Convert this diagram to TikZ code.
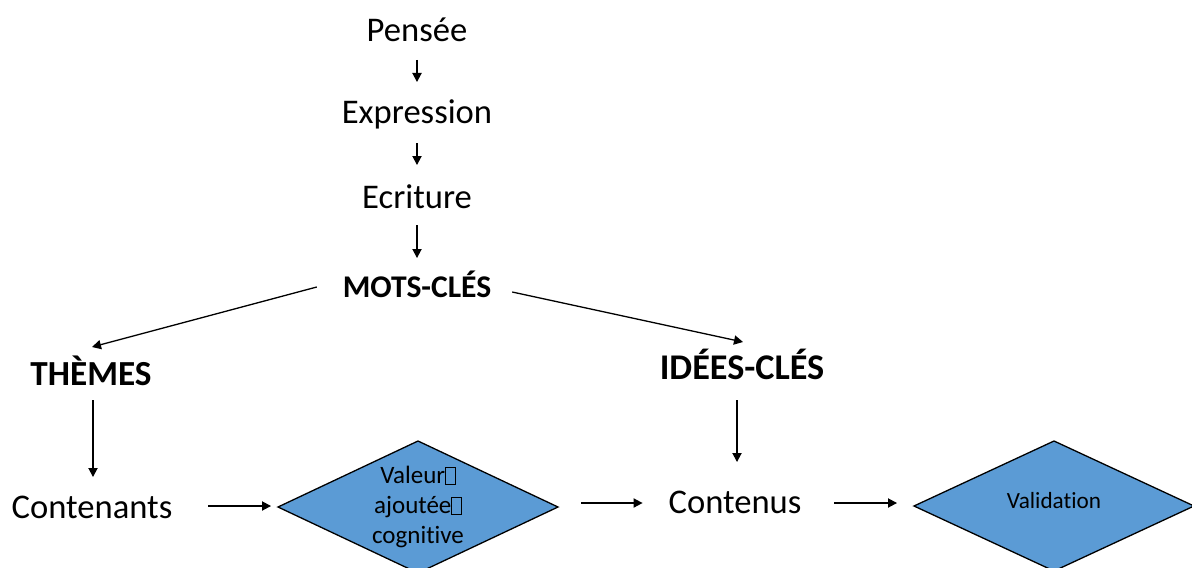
\documentclass[tikz,border=0pt]{standalone}
\usepackage{fontspec}
\setmainfont[Ligatures=NoCommon]{Carlito}
\usetikzlibrary{shapes.geometric,arrows.meta}
\definecolor{dblue}{HTML}{5B9BD5}
\newcommand\glyphbox{{\setlength\fboxsep{0pt}\setlength\fboxrule{0.35pt}\framebox[0.42em][c]{\rule{0pt}{0.64em}}}}
\tikzset{
  lbl/.style={inner sep=0pt, outer sep=0pt, anchor=base, font=\fontsize{17.3pt}{20pt}\selectfont},
  blbl/.style={inner sep=0pt, outer sep=0pt, anchor=base},
  arr/.style={line width=0.65pt, -{Triangle[length=4.5pt,width=4.6pt]}},
  dia/.style={diamond, draw=black, line width=0.65pt, fill=dblue, inner sep=0pt, outer sep=0pt, minimum width=140pt},
}
\begin{document}
\begin{tikzpicture}[x=0.5pt,y=-0.5pt]
\useasboundingbox (0,0) rectangle (1192,567);
\clip (0,0) rectangle (1192,567);
% text nodes
\node[lbl] (p) at (417,42) {Pensée};
\node[lbl] (e) at (417,123) {Expression};
\node[lbl] (ec) at (417,208) {Ecriture};
\node[blbl, font=\fontsize{15.8pt}{18pt}\selectfont\bfseries] (mc) at (417,297) {MOTS-CLÉS};
\node[blbl, font=\fontsize{17.6pt}{20pt}\selectfont\bfseries] (th) at (91,385) {THÈMES};
\node[blbl, font=\fontsize{18.1pt}{20pt}\selectfont\bfseries] (ic) at (742,379) {IDÉES-CLÉS};
\node[lbl] (cn) at (92,518) {Contenants};
\node[lbl] (cu) at (735,513) {Contenus};
% diamonds
\node[dia, minimum height=66pt] (d1) at (418,507) {};
\node[inner sep=0pt, align=center, font=\fontsize{12.5pt}{15pt}\selectfont] (t1) at (418,507) {Valeur\glyphbox\\ajoutée\glyphbox\\cognitive};
\node[dia, minimum height=65pt] (d2) at (1054,506) {};
\node[blbl, font=\fontsize{11.6pt}{14pt}\selectfont] (t2) at (1054,508) {Validation};
% connectors
\draw[arr] ([yshift=-9pt]p.base) -- ([yshift=20.5pt]e.base);
\draw[arr] ([yshift=-10pt]e.base) -- ([yshift=21.5pt]ec.base);
\draw[arr] ([yshift=-8.5pt]ec.base) -- ([yshift=19.5pt]mc.base);
\draw[arr] ([xshift=-13pt,yshift=5pt]mc.base west) -- ([xshift=0.5pt,yshift=19pt]th.base);
\draw[arr] ([xshift=10.5pt,yshift=2.5pt]mc.base east) -- ([xshift=0.5pt,yshift=18.5pt]ic.base);
\draw[arr] ([xshift=1pt,yshift=-7.5pt]th.base) -- ([xshift=0.5pt,yshift=20.5pt]cn.base);
\draw[arr] ([xshift=-2.5pt,yshift=-10.5pt]ic.base) -- ([xshift=1pt,yshift=25.5pt]cu.base);
\draw[arr] ([xshift=18pt,yshift=6pt]cn.base east) -- ([xshift=-3.5pt,yshift=0.5pt]d1.west);
\draw[arr] ([xshift=11.5pt,yshift=2pt]d1.east) -- ([xshift=-13pt,yshift=5pt]cu.base west);
\draw[arr] ([xshift=16.5pt,yshift=5pt]cu.base east) -- ([xshift=-8.5pt,yshift=1.5pt]d2.west);
\end{tikzpicture}
\end{document}
